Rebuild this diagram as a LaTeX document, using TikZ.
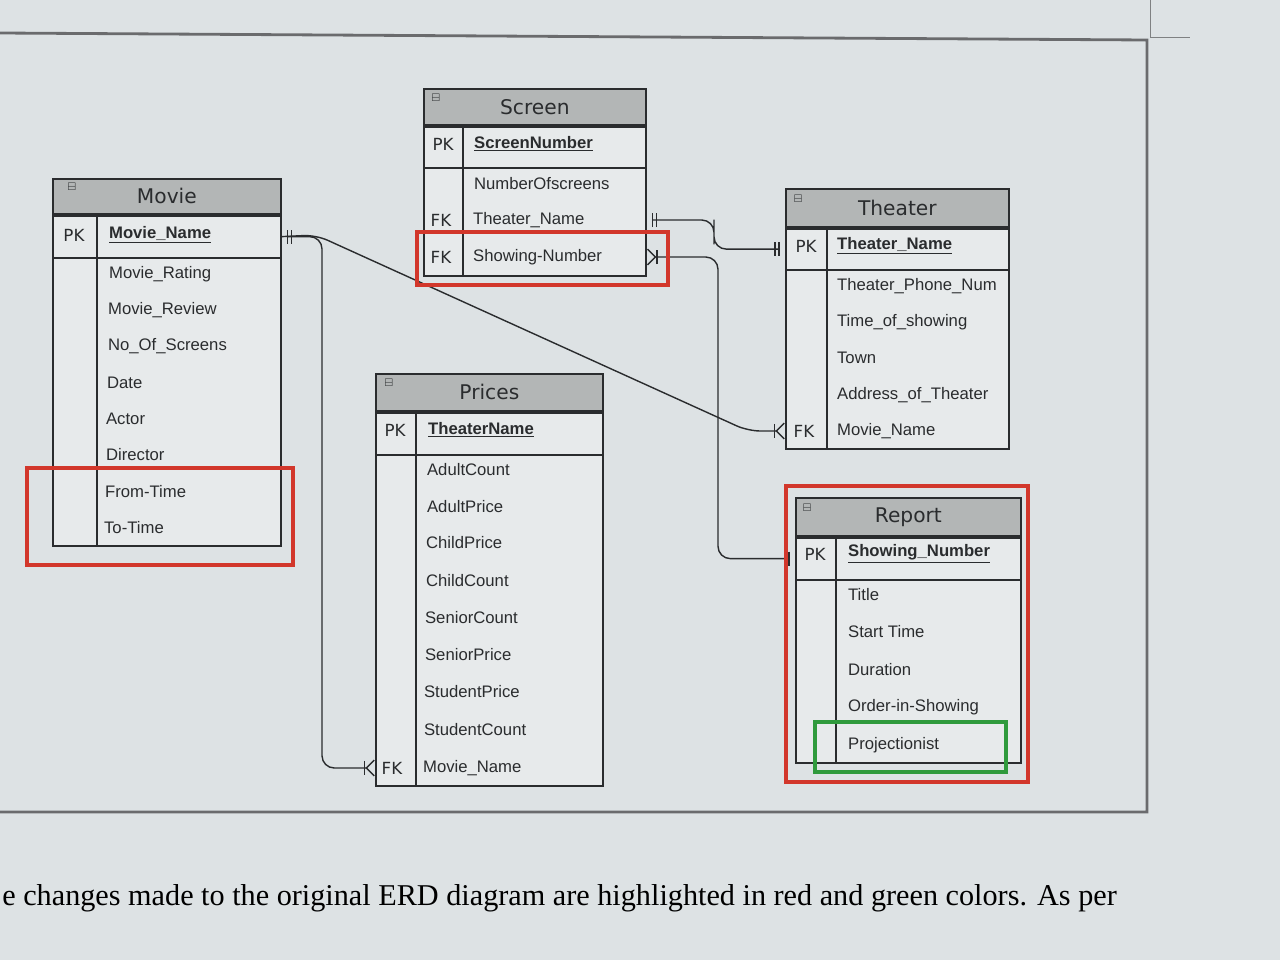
\documentclass[tikz,border=0pt]{standalone}
\usepackage{amssymb}
\usepackage{fontspec}
\setmainfont{Liberation Sans}
\newfontfamily\headfont{DejaVu Sans}
\newfontfamily\notefont{Liberation Serif}
\usetikzlibrary{arrows.meta}
\definecolor{screenbg}{HTML}{DDE2E4}
\definecolor{tablefill}{HTML}{E7EAEB}
\definecolor{headfill}{HTML}{B3B6B6}
\definecolor{inkgray}{HTML}{2A2C2E}
\definecolor{markred}{HTML}{D2372B}
\definecolor{markgreen}{HTML}{2F9A3C}
\tikzset{
    erone/.tip={Bar[width=8pt,sep=1.5pt]Bar[width=8pt,sep=3pt]},
    ermany/.tip={Bar[width=8pt,sep=0pt]Straight Barb[reversed,length=4.5pt,width=9pt]}
}
\begin{document}
\begin{tikzpicture}[x=0.02cm,y=-0.02cm,
        entity/.style={rectangle,draw=inkgray,line width=1pt,fill=tablefill,anchor=north west,inner sep=0pt},
        head/.style={rectangle,draw=inkgray,line width=1pt,fill=headfill,anchor=north west,inner sep=0pt,text=inkgray,font=\headfont\fontsize{11.5}{13}\selectfont},
        keyrow/.style={rectangle,draw=inkgray,line width=1pt,anchor=north west,inner sep=0pt},
        tag/.style={inner sep=1pt,text=inkgray,font=\headfont\fontsize{9.5}{11}\selectfont},
        pkey/.style={anchor=west,inner sep=1pt,text=inkgray,font=\bfseries\fontsize{9.5}{11}\selectfont},
        attr/.style={anchor=west,inner sep=1pt,text=inkgray,font=\fontsize{9.5}{11}\selectfont},
        icon/.style={inner sep=0pt,text=inkgray,font=\tiny},
        link/.style={draw=inkgray,line width=0.8pt,rounded corners=7pt},
        hilite/.style={line width=1.8pt},
        ]

        % Fond de l'ecran
        \fill[screenbg] (0,0) rectangle (1280,960);
        \useasboundingbox (0,0) rectangle (1280,960);
        \draw[inkgray!70,line width=1.6pt] (0,33) -- (1147,40) -- (1147,812) -- (0,812);
        \draw[inkgray!60,line width=0.5pt] (1150,0) -- (1150,37) -- (1190,37);

        % Table Movie
        \node[entity,minimum width=4.56cm,minimum height=7.34cm] (movie) at (52,178) {};
        \node[head,minimum width=4.56cm,minimum height=0.70cm] (movie-head) at (movie.north west) {Movie};
        \node[keyrow,minimum width=4.56cm,minimum height=0.84cm] (movie-key) at (movie-head.south west) {};
        \draw[inkgray,line width=1pt] ([xshift=0.9cm]movie-key.north west) -- ([xshift=0.9cm]movie.south west);
        \node[icon] (movie-min) at (72,187) {$\boxminus$};
        \node[tag] (movie-pk) at (74,235) {PK};
        \node[pkey] (movie-name) at (107,235) {\underline{Movie\_Name}};
        \node[attr] (movie-rating) at (107,274) {Movie\_Rating};
        \node[attr] (movie-review) at (106,310) {Movie\_Review};
        \node[attr] (movie-screens) at (106,346) {No\_Of\_Screens};
        \node[attr] (movie-date) at (105,383) {Date};
        \node[attr] (movie-actor) at (104,419) {Actor};
        \node[attr] (movie-director) at (104,455) {Director};
        \node[attr] (movie-from) at (103,492) {From-Time};
        \node[attr] (movie-to) at (102,528) {To-Time};

        % Table Screen
        \node[entity,minimum width=4.44cm,minimum height=3.74cm] (screen) at (423,88) {};
        \node[head,minimum width=4.44cm,minimum height=0.72cm] (screen-head) at (screen.north west) {Screen};
        \node[keyrow,minimum width=4.44cm,minimum height=0.82cm] (screen-key) at (screen-head.south west) {};
        \draw[inkgray,line width=1pt] ([xshift=0.8cm]screen-key.north west) -- ([xshift=0.8cm]screen.south west);
        \node[icon] (screen-min) at (436,98) {$\boxminus$};
        \node[tag] (screen-pk) at (443,144) {PK};
        \node[pkey] (screen-number) at (472,144) {\underline{ScreenNumber}};
        \node[attr] (screen-count) at (472,184) {NumberOfscreens};
        \node[tag] (screen-fk1) at (441,220) {FK};
        \node[attr] (screen-theater) at (471,220) {Theater\_Name};
        \node[tag] (screen-fk2) at (441,257) {FK};
        \node[attr] (screen-showing) at (471,257) {Showing-Number};

        % Table Theater
        \node[entity,minimum width=4.46cm,minimum height=5.20cm] (theater) at (785,188) {};
        \node[head,minimum width=4.46cm,minimum height=0.76cm] (theater-head) at (theater.north west) {Theater};
        \node[keyrow,minimum width=4.46cm,minimum height=0.82cm] (theater-key) at (theater-head.south west) {};
        \draw[inkgray,line width=1pt] ([xshift=0.84cm]theater-key.north west) -- ([xshift=0.84cm]theater.south west);
        \node[icon] (theater-min) at (798,199) {$\boxminus$};
        \node[tag] (theater-pk) at (806,246) {PK};
        \node[pkey] (theater-name) at (835,246) {\underline{Theater\_Name}};
        \node[attr] (theater-phone) at (835,286) {Theater\_Phone\_Num};
        \node[attr] (theater-time) at (835,322) {Time\_of\_showing};
        \node[attr] (theater-town) at (835,358) {Town};
        \node[attr] (theater-address) at (835,395) {Address\_of\_Theater};
        \node[tag] (theater-fk) at (804,431) {FK};
        \node[attr] (theater-movie) at (835,431) {Movie\_Name};

        % Table Prices
        \node[entity,minimum width=4.54cm,minimum height=8.24cm] (prices) at (375,373) {};
        \node[head,minimum width=4.54cm,minimum height=0.74cm] (prices-head) at (prices.north west) {Prices};
        \node[keyrow,minimum width=4.54cm,minimum height=0.84cm] (prices-key) at (prices-head.south west) {};
        \draw[inkgray,line width=1pt] ([xshift=0.82cm]prices-key.north west) -- ([xshift=0.82cm]prices.south west);
        \node[icon] (prices-min) at (389,383) {$\boxminus$};
        \node[tag] (prices-pk) at (395,430) {PK};
        \node[pkey] (prices-name) at (426,430) {\underline{TheaterName}};
        \node[attr] (prices-adultc) at (425,470) {AdultCount};
        \node[attr] (prices-adultp) at (425,507) {AdultPrice};
        \node[attr] (prices-childp) at (424,543) {ChildPrice};
        \node[attr] (prices-childc) at (424,581) {ChildCount};
        \node[attr] (prices-seniorc) at (423,618) {SeniorCount};
        \node[attr] (prices-seniorp) at (423,655) {SeniorPrice};
        \node[attr] (prices-studentp) at (422,692) {StudentPrice};
        \node[attr] (prices-studentc) at (422,730) {StudentCount};
        \node[tag] (prices-fk) at (392,768) {FK};
        \node[attr] (prices-movie) at (421,768) {Movie\_Name};

        % Table Report
        \node[entity,minimum width=4.50cm,minimum height=5.30cm] (report) at (795,497) {};
        \node[head,minimum width=4.50cm,minimum height=0.76cm] (report-head) at (report.north west) {Report};
        \node[keyrow,minimum width=4.50cm,minimum height=0.84cm] (report-key) at (report-head.south west) {};
        \draw[inkgray,line width=1pt] ([xshift=0.82cm]report-key.north west) -- ([xshift=0.82cm]report.south west);
        \node[icon] (report-min) at (807,508) {$\boxminus$};
        \node[tag] (report-pk) at (815,554) {PK};
        \node[pkey] (report-number) at (846,554) {\underline{Showing\_Number}};
        \node[attr] (report-title) at (846,595) {Title};
        \node[attr] (report-start) at (846,632) {Start Time};
        \node[attr] (report-duration) at (846,670) {Duration};
        \node[attr] (report-order) at (846,707) {Order-in-Showing};
        \node[attr] (report-proj) at (846,745) {Projectionist};

        % Liaisons
        \coordinate (movie-fork) at (322,500);
        \coordinate (diag-a) at (316,235);
        \coordinate (diag-b) at (748,431);
        \coordinate (theater-jog) at (714,232);
        \coordinate (report-jog) at (718,400);
        \draw[link,erone-ermany] (movie-key.east) -| (movie-fork) |- (prices.west |- prices-movie);
        \draw[link,-ermany] (movie-key.east) -- (diag-a) -- (diag-b) -- (theater.west |- theater-movie);
        \draw[link,erone-erone] (screen.east |- screen-theater) -| (theater-jog) |- (theater-key.west);
        \draw[link,ermany-erone] (screen.east |- screen-showing) -| (report-jog) |- (report-key.west);

        % Modifications en rouge et vert
        \draw[markred,hilite] (27,468) rectangle (293,565);
        \draw[markred,hilite] (417,232) rectangle (668,285);
        \draw[markred,hilite] (786,486) rectangle (1028,782);
        \draw[markgreen,hilite] (815,722) rectangle (1006,772);

        % Texte sous le schema
        \node[anchor=base west,inner sep=0pt,font=\notefont\fontsize{17.2}{20}\selectfont] (note) at (2,905) {e changes made to the original ERD diagram are highlighted in red and green colors. As per};
    \end{tikzpicture}
\end{document}
